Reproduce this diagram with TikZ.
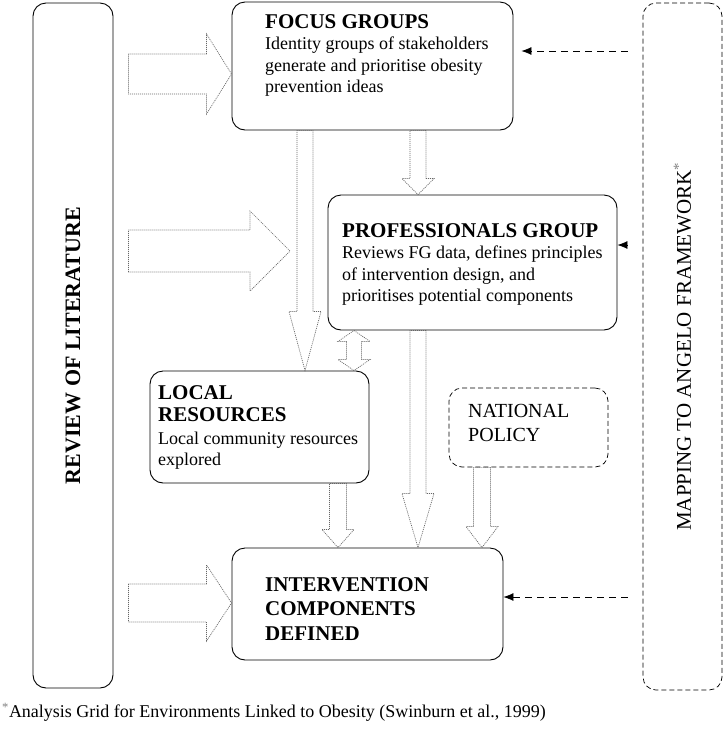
\documentclass[tikz,border=0pt]{standalone}
\usepackage{fontspec}
\setmainfont{Liberation Serif}
\usepackage{graphicx}
\usepackage{tikz}
\usetikzlibrary{shapes,arrows,arrows.meta,positioning,calc}
\newcommand{\ttl}{\fontsize{21}{23}\selectfont\bfseries}
\tikzstyle{box} = [rectangle, draw, rounded corners=13pt, line width=0.9pt, inner sep=0pt]
\tikzstyle{dashbox} = [box, line width=0.7pt, dash pattern=on 5pt off 3pt]
\tikzstyle{txt} = [anchor=north west, inner sep=0pt, align=left, font=\fontsize{18}{21.5}\selectfont]
\tikzstyle{line} = [draw, line width=0.7pt, dash pattern=on 7pt off 5pt, -{Latex[length=10pt,width=8pt]}]
\tikzstyle{fat} = [draw=black!60, line width=0.7pt, dash pattern=on 1pt off 1pt, line join=miter]
\tikzset{
  fatarrow/.style n args={3}{fat, to path={
    let \p1=($(\tikztotarget)!#3!(\tikztostart)$) in
    ($(\tikztostart)!#1!90:(\tikztotarget)$) -- ($(\p1)!#1!90:(\tikztotarget)$)
    -- ($(\p1)!#2!90:(\tikztotarget)$) -- (\tikztotarget)
    -- ($(\p1)!#2!-90:(\tikztotarget)$) -- ($(\p1)!#1!-90:(\tikztotarget)$)
    -- ($(\tikztostart)!#1!-90:(\tikztotarget)$) -- cycle}},
  dfatarrow/.style n args={3}{fat, to path={
    let \p1=($(\tikztotarget)!#3!(\tikztostart)$), \p2=($(\tikztostart)!#3!(\tikztotarget)$) in
    ($(\p2)!#1!90:(\tikztotarget)$) -- ($(\p1)!#1!90:(\tikztotarget)$)
    -- ($(\p1)!#2!90:(\tikztotarget)$) -- (\tikztotarget)
    -- ($(\p1)!#2!-90:(\tikztotarget)$) -- ($(\p1)!#1!-90:(\tikztotarget)$)
    -- ($(\p2)!#1!-90:(\tikztotarget)$) -- ($(\p2)!#2!-90:(\tikztotarget)$)
    -- (\tikztostart) -- ($(\p2)!#2!90:(\tikztotarget)$) -- cycle}},
}

\begin{document}
\begin{tikzpicture}[x=1pt, y=-1pt, node distance=2.5cm, auto]
    \useasboundingbox (0,0) rectangle (723,729);

    \node [box, minimum width=80pt, minimum height=685pt] (lit) at (73,345.5)
        {\rotatebox{90}{\fontsize{22}{22}\selectfont\bfseries REVIEW OF LITERATURE}};
    \node [dashbox, minimum width=79pt, minimum height=687pt] (map) at (682.5,346.5)
        {\rotatebox{90}{\fontsize{21}{21}\selectfont MAPPING TO ANGELO FRAMEWORK\textsuperscript{\color{gray}*}}};

    \node [box, minimum width=281pt, minimum height=128pt] (focus) at (372.5,66) {};
    \node [box, minimum width=289pt, minimum height=135pt] (prof) at (472.5,262.5) {};
    \node [box, minimum width=219pt, minimum height=112pt] (local) at (259.5,427) {};
    \node [dashbox, minimum width=159pt, minimum height=79pt] (policy) at (528.5,427.5) {};
    \node [box, minimum width=271pt, minimum height=112pt] (interv) at (367.5,604) {};

    \node [txt] (focustxt) at (265,14) {{\ttl FOCUS GROUPS}\\
        Identity groups of stakeholders\\ generate and prioritise obesity\\ prevention ideas};
    \node [txt] (proftxt) at (342,223) {{\ttl PROFESSIONALS GROUP}\\
        Reviews FG data, defines principles\\ of intervention design, and\\ prioritises potential components};
    \node [txt] (localtxt) at (158,385) {{\ttl LOCAL}\\[1pt] {\ttl RESOURCES}\\[1pt]
        Local community resources\\ explored};
    \node [txt, font=\fontsize{20}{24}\selectfont] (policytxt) at (468,404) {NATIONAL\\ POLICY};
    \node [txt, font=\fontsize{21}{24.5}\selectfont\bfseries] (intervtxt) at (265,577)
        {INTERVENTION\\ COMPONENTS\\ DEFINED};

    \node [anchor=west, inner sep=0pt, font=\fontsize{18}{20}\selectfont] (note) at (2,712)
        {\textsuperscript{\color{gray}*}Analysis Grid for Environments Linked to Obesity (Swinburn et al., 1999)};

    \path [fatarrow={20pt}{40pt}{25pt}] ($(lit.east |- 0,74)+(15pt,0)$) to (focus.west |- 0,74);
    \path [fatarrow={21pt}{40pt}{40pt}] ($(lit.east |- 0,251)+(15pt,0)$) to (290,251);
    \path [fatarrow={19pt}{38pt}{25pt}] ($(lit.east |- 0,603)+(15pt,0)$) to (interv.west |- 0,603);

    \path [fatarrow={8pt}{16pt}{16pt}] (focus.south -| 418,0) to (prof.north -| 418,0);
    \path [fatarrow={8pt}{16pt}{59pt}] (focus.south -| 305,0) to (local.north -| 305,0);
    \path [dfatarrow={7.5pt}{16pt}{11pt}] (prof.south -| 354,0) to (local.north -| 354,0);
    \path [fatarrow={8pt}{16pt}{54pt}] (prof.south -| 418,0) to (interv.north -| 418,0);
    \path [fatarrow={8.5pt}{16pt}{18pt}] (local.south -| 338,0) to (interv.north -| 338,0);
    \path [fatarrow={8.5pt}{16pt}{21pt}] (policy.south -| 482,0) to (interv.north -| 482,0);

    \path [line, shorten >=8pt] ($(map.west |- 0,51)+(-15pt,0)$) -- (focus.east |- 0,51);
    \path [line] ($(map.west |- 0,245)+(-15pt,0)$) -- (prof.east |- 0,245);
    \path [line] ($(map.west |- 0,597)+(-15pt,0)$) -- (interv.east |- 0,597);
\end{tikzpicture}
\end{document}
